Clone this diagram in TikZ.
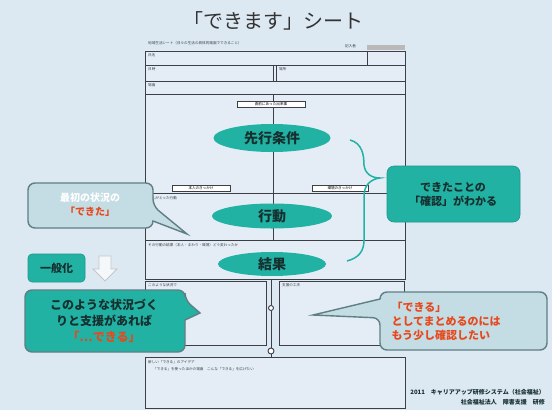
\documentclass[tikz,border=0pt]{standalone}
\usepackage{fontspec}
\setmainfont{Noto Sans CJK JP}
\newfontfamily\jp{Noto Sans CJK JP}
\usetikzlibrary{shapes.geometric}
\definecolor{bg}{HTML}{DCE8F2}
\definecolor{formbg}{HTML}{E4EDF5}
\definecolor{teal1}{HTML}{22B2A4}
\definecolor{bubl}{HTML}{C4DCE3}
\definecolor{bubb}{HTML}{5F7F84}
\definecolor{redt}{HTML}{E8481C}
\definecolor{darkt}{HTML}{16302F}
\definecolor{lin}{HTML}{3C4046}
\tikzset{
  formline/.style={draw=lin, line width=1pt},
  oval/.style={ellipse, fill=teal1, draw=none, inner sep=0pt, font=\jp\bfseries\fontsize{14}{14}\selectfont, text=darkt},
  tiny/.style={font=\jp\fontsize{3.6}{4}\selectfont, text=lin, anchor=west, inner sep=0pt},
  smallbox/.style={draw=lin, fill=white, line width=0.9pt, minimum height=6pt, inner sep=0pt, font=\jp\fontsize{3.6}{4}\selectfont},
  bubble/.style={draw=bubb, line width=1.4pt, fill=bubl, rounded corners=7pt},
  tealbox/.style={fill=teal1, draw=teal1!85!black, line width=0.6pt, rounded corners=7pt},
}
\begin{document}
\begin{tikzpicture}[x=1pt,y=-1pt]
\useasboundingbox (0,0) rectangle (552,410);
\fill[bg] (0,0) rectangle (552,410);

% title
\node[text=black!80] (title) at (273,21) {\fontsize{20}{21}\selectfont 「できます」シート};
\node[tiny] (hdr) at (148,43) {地域生活シート（日々の生活の具体的場面でできること）};
\node[tiny] (writer) at (345,46) {記入者};
\fill[gray!55] (367,45) rectangle (405,50);

% form fill
\fill[formbg] (145,50) rectangle (405,279);
\fill[formbg] (145,281) rectangle (266,345);
\fill[formbg] (279,281) rectangle (404,345);
\fill[formbg] (145,357) rectangle (405,408);

% form top rows
\draw[formline] (145,51) rectangle (405,65);
\draw[formline] (367,51) -- (367,65);
\draw[formline] (145,65) rectangle (405,81);
\draw[formline] (273,65) -- (273,81);
\draw[formline] (276,65) -- (276,81);
\draw[formline] (145,81) rectangle (405,94);
\node[tiny] (r1) at (148,55) {氏名};
\node[tiny] (r2a) at (148,69) {日時};
\node[tiny] (r2b) at (279,69) {場所};
\node[tiny] (r3) at (148,85) {場面};

% main sections
\draw[formline] (145,94) rectangle (405,279);
\draw[formline] (145,193) -- (405,193);
\draw[formline] (145,240) -- (405,240);
\draw[formline] (273,94) -- (273,240);
\node[smallbox, minimum width=68pt] (sb1) at (271,104) {直前にあった出来事};
\node[smallbox, minimum width=58pt] (sb2) at (201,188) {本人のきっかけ};
\node[smallbox, minimum width=56pt] (sb3) at (340,188) {環境のきっかけ};
\node[tiny] (h2) at (148,198) {本人がとった行動};
\node[tiny] (h3) at (148,245) {その行動の結果（本人・まわり・環境）どう変わったか};

\node[oval, minimum width=117pt, minimum height=28pt] (pre) at (272,138) {先行条件};
\node[oval, minimum width=120pt, minimum height=25pt] (act) at (272,216) {行動};
\node[oval, minimum width=108pt, minimum height=24pt] (res) at (272,264) {結果};

% lower boxes
\draw[formline] (145,281) rectangle (266,345);
\draw[formline] (279,281) rectangle (404,345);
\node[tiny] (l1) at (148,285) {このような状況で};
\node[tiny] (l2) at (282,285) {支援の工夫};
\coordinate (ctop) at (271,279);
\node[circle, draw=lin, fill=white, line width=0.9pt, inner sep=0pt, minimum size=5pt] (c1) at (271,308) {};
\node[circle, draw=lin, fill=white, line width=0.9pt, inner sep=0pt, minimum size=6pt] (c2) at (271,351) {};
\draw[formline] (ctop) -- (c1);
\draw[formline] (c1) -- (c2);
\coordinate (cbot) at (271,357);
\draw[formline] (c2) -- (cbot);

% bottom box
\draw[formline] (145,357) rectangle (405,408);
\node[tiny] (b1) at (148,362) {新しい「できる」のアイデア};
\node[tiny] (b2) at (153,369) {「できる」を使ったほかの場面　こんな「できる」を広げたい};

% brace
\coordinate (brA) at (350,140);
\coordinate (brT) at (380,178);
\coordinate (brB) at (347,261);
\draw[teal1, line width=1.5pt] (brA) .. controls (362,143) and (364,155) .. (364,165)
  .. controls (365,174) and (372,178) .. (brT)
  .. controls (371,179) and (364,185) .. (364,196) -- (364,240)
  .. controls (364,252) and (358,258) .. (brB);

% right teal callout
\draw[tealbox] (387,166) rectangle (520,222);
\node[align=center, text=darkt, font=\jp\bfseries\fontsize{11}{14}\selectfont] (conf) at (453,194) {できたことの\\「確認」がわかる};

% bubble 1 (top left)
\draw[bubble] (28,183) -- (153,183) -- (153,206) [sharp corners] -- (187,234) -- (153,221) [rounded corners=7pt] -- (153,228) -- (28,228) -- cycle;
\node[align=center, font=\jp\bfseries\fontsize{10}{14}\selectfont] (bub1) at (90,205) {\textcolor{white}{最初の状況の}\\\textcolor{redt}{「できた」}};

% generalization
\draw[tealbox, rounded corners=4pt] (28,254) rectangle (85,282);
\node[text=darkt, font=\jp\bfseries\fontsize{11}{12}\selectfont] (gen) at (56.5,268) {一般化};
\draw[fill=white!70!bg, draw=gray!45, line width=0.8pt] (99,256) -- (111,256) -- (111,269) -- (117,269) -- (105,281) -- (93,269) -- (99,269) -- cycle;

% bubble 2 (bottom left)
\draw[bubble, fill=teal1, draw=bubb] (25,290) -- (185,290) -- (185,300) [sharp corners] -- (200,313) -- (185,320) [rounded corners=7pt] -- (185,352) -- (25,352) -- cycle;
\node[align=center, text=darkt, font=\jp\bfseries\fontsize{12}{16}\selectfont] (bub2) at (104,321) {このような状況づく\\りと支援があれば\\\textcolor{redt}{「…できる」}};

% bubble 3 (right)
\draw[bubble] (547,292) -- (547,350) -- (380,350) -- (380,318) [sharp corners] -- (313,315) -- (380,299) [rounded corners=7pt] -- (380,292) -- cycle;
\node[align=left, text=redt, font=\jp\bfseries\fontsize{11}{14}\selectfont, anchor=west] (bub3) at (388,321) {「できる」\\としてまとめるのには\\もう少し確認したい};

% footer
\node[anchor=east, font=\jp\bfseries\fontsize{6}{7}\selectfont, text=darkt, inner sep=0pt] (ft1) at (545,392) {2011　キャリアアップ研修システム（社会福祉）};
\node[anchor=east, font=\jp\bfseries\fontsize{6}{7}\selectfont, text=darkt, inner sep=0pt] (ft2) at (545,402) {社会福祉法人　障害支援　研修};
\end{tikzpicture}
\end{document}
